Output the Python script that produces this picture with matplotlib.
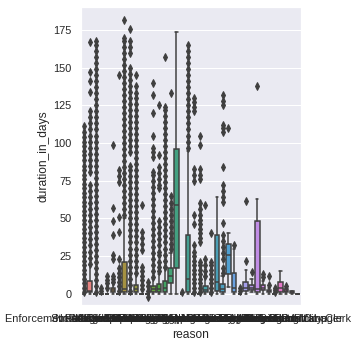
import colorsys
import matplotlib
matplotlib.use("Agg")
import matplotlib.pyplot as plt
import seaborn as sns

# Categorías (motivos) y estadísticos de cada caja, en días
reasons = [
    "Enforcement Action Not Needed", "Street Light Out", "Noise Complaint",
    "Pothole Repair", "Graffiti Removal", "Illegal Dumping", "Missed Collection",
    "Abandoned Vehicle", "Tree Maintenance", "Sidewalk Damage", "Water Leak",
    "Sewer Backup", "Traffic Signal", "Parking Violation", "Building Inspection",
    "Zoning Review", "Permit Application", "Dead Animal", "Code Violation",
    "Drainage Issue", "Snow Removal", "Park Maintenance", "Litter Pickup",
    "Housing Complaint", "Rodent Control", "Fire Hydrant", "Street Sign Missing",
    "Weed Abatement", "Business License", "Recycling Bin", "Tax Assessment",
    "Public Records", "Utility Billing", "Event Permit", "Animal Control",
    "Bulk Item Pickup", "Referred to Manager", "Referred to City Clerk",
]

q1 = [0, 0.9, 0, 0, 0, 1.3, 0, 1, 0, 1.3, 0, 0, 1.3, 1.3, 1.3, 6.9, 17, 0, 1,
      0, 0, 0.9, 0, 1.8, 1.3, 12.8, 1.3, 0, 1.8, 2.4, 0.9, 2.4, 0.9, 0, 1.3,
      1.3, 0.5, 0]
medians = [0, 1.8, 0, 0, 0, 2.5, 0, 3, 0, 3, 0, 0, 3, 3, 4, 12, 58.8, 0, 10,
           0, 0, 2.4, 0, 8, 3, 25.7, 4, 0, 4, 3.5, 3, 4, 1.5, 0, 3.5, 2, 1, 0]
q3 = [0, 8.4, 0, 0, 0, 3.5, 0, 21, 0, 6, 0, 0, 5, 6.2, 8.4, 16.8, 96, 0, 39,
      0, 0, 5.3, 0, 39, 6.2, 33, 13.5, 0, 8, 5.7, 48, 5.7, 2.4, 0, 8, 3, 1.5, 0]
whisker_low = [0, 0, 0, 0, 0, 0, 0, 0, 0, 0, 0, 0, 0, 0, 0, 0, 0, 0, 0, 0, 0,
               0, 0, 0, 0, 4.6, 0, 0, 0, 0.9, 0, 0, 0, 0, 0, 0, 0, 0]
whisker_high = [0, 19, 0, 0, 0, 7, 0, 50, 0, 13, 0, 0, 10, 13, 17, 27, 174, 0,
                95, 0, 0, 11, 0, 64, 12, 40.5, 30, 0, 15.7, 10, 63, 8.4, 4, 0,
                15.3, 4, 2, 0]

outliers = [
    [1, 4, 7, 10, 13, 16, 19, 22, 25, 28, 31, 34, 37, 40, 43, 46, 49, 52, 55,
     58, 61, 64, 67, 70, 73, 76, 79, 82, 85, 89, 92, 95, 98, 101, 104, 107, 111],
    [20, 24, 28, 32, 36, 40, 44, 48, 52, 56, 60, 64, 68, 72, 81, 85, 89, 93, 97,
     101, 105, 109, 113, 117, 121, 134, 141, 147, 167],
    [1, 5, 9, 13, 17, 21, 25, 29, 33, 37, 41, 45, 49, 53, 57, 61, 65, 69, 73,
     77, 81, 85, 89, 93, 97, 101, 105, 109, 113, 117, 121, 125, 129, 133, 137,
     141, 145, 149, 153, 157, 161, 165, 168],
    [2, 4],
    [4, 7, 9, 12],
    [8, 10, 12, 23, 26, 39, 48, 57, 99],
    [2, 5, 8, 11, 14, 17, 23, 41, 51, 74, 78, 82, 145],
    [52, 56, 60, 64, 68, 72, 76, 80, 84, 88, 92, 96, 100, 104, 108, 112, 116,
     120, 124, 128, 132, 136, 140, 144, 148, 152, 156, 160, 164, 168, 170, 182],
    [2, 6, 10, 14, 18, 22, 26, 30, 34, 38, 42, 46, 50, 54, 58, 62, 66, 70, 74,
     78, 82, 85, 94, 98, 102, 106, 110, 114, 118, 122, 126, 130, 134, 138, 142,
     146, 150, 160, 164, 168, 176],
    [14, 18, 22, 26, 30, 34, 38, 42, 46, 50, 54, 58, 62, 66, 70, 74, 78, 82, 86,
     90, 94, 98, 102, 106, 110, 114, 118, 122, 126, 130, 133, 138, 145],
    [3, 6, 9, 12, 15, 18, 29, 33, 37, 41, 59],
    [-2, 2, 5, 8],
    [11, 15, 19, 23, 27, 31, 35, 39, 43, 47, 51, 55, 59, 63, 67, 71, 75, 79, 81,
     91, 94, 97, 105, 120, 132, 140],
    [15, 18, 21, 26, 28, 32, 36, 40, 44, 48, 70, 72, 76, 80, 84, 92, 125],
    [18, 22, 26, 30, 34, 38, 42, 46, 50, 54, 58, 62, 66, 70, 74, 78, 82, 86, 90,
     94, 98, 102, 106, 110, 114, 118, 122, 124, 157],
    [30, 33, 37, 40, 44, 48, 52, 56, 60, 65, 133],
    [],
    [1],
    [97, 101, 105, 109, 113, 117, 121, 125, 129, 133, 137, 141, 145, 149, 153,
     157, 161, 165],
    [1, 4, 7, 10, 13, 16, 19, 22, 25, 28, 32, 46, 52, 75, 79, 83, 121, 124, 127,
     130],
    [1, 4, 7, 10, 13, 16, 19, 21, 34, 37, 40, 43, 46, 49, 52, 56, 60, 76, 79, 83,
     99, 105],
    [12, 15, 19, 23, 59],
    [1, 4, 7, 10, 13, 16, 19, 21, 40],
    [],
    [14, 17, 23, 27, 31, 35, 39, 47, 61, 64, 68, 72, 84, 107, 110, 112, 125, 128,
     132],
    [110],
    [32],
    [1.5, 3.5],
    [22, 61.5],
    [14.6],
    [138],
    [11, 13],
    [6, 12],
    [1, 2.5, 4],
    [],
    [5],
    [],
    [],
]

sns.set_theme()
plt.rcParams['font.family'] = ['Liberation Sans', 'DejaVu Sans']

# Paleta husl desaturada, como la de seaborn para muchas categorías
colors = [sns.desaturate(c, 0.75) for c in sns.husl_palette(len(reasons))]
lum = min(colorsys.rgb_to_hls(*c)[1] for c in colors) * 0.6
gray = (lum, lum, lum)

stats = []
for i in range(len(reasons)):
    stats.append({
        'q1': q1[i], 'med': medians[i], 'q3': q3[i],
        'whislo': whisker_low[i], 'whishi': whisker_high[i],
        'fliers': outliers[i],
    })

fig = plt.figure(figsize=(359 / 72, 348 / 72), dpi=72)
ax = fig.add_axes([81.1 / 359, 43 / 348, 219.5 / 359, 298.3 / 348])

lw = 1.5
bp = ax.bxp(stats, positions=range(len(reasons)), widths=0.8, patch_artist=True,
            boxprops=dict(edgecolor=gray, linewidth=lw),
            whiskerprops=dict(color=gray, linewidth=lw),
            capprops=dict(color=gray, linewidth=lw),
            medianprops=dict(color=gray, linewidth=lw),
            flierprops=dict(marker='d', markerfacecolor=gray,
                            markeredgecolor=gray, markersize=5,
                            linestyle='none'))
for box, c in zip(bp['boxes'], colors):
    box.set_facecolor(c)

ax.set_xticks(range(len(reasons)))
ax.set_xticklabels(reasons)
ax.set_xlim(-0.5, len(reasons) - 0.5)
ax.set_ylim(-7.5, 190.5)
ax.set_yticks([0, 25, 50, 75, 100, 125, 150, 175])
ax.grid(False, axis='x')
ax.set_xlabel('reason')
ax.set_ylabel('duration_in_days')

fig.savefig('out.png', dpi=72)
